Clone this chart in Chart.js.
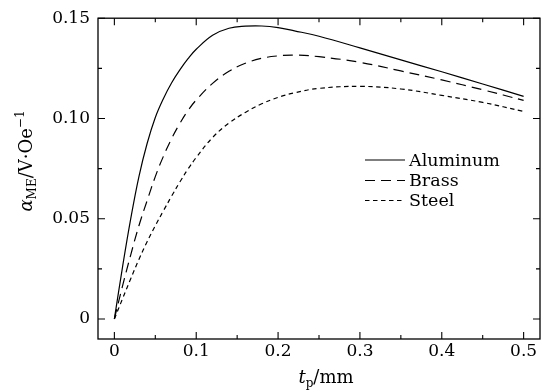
<!DOCTYPE html>
<html>
<head>
<meta charset="utf-8">
<script src="https://cdn.jsdelivr.net/npm/chart.js@4/dist/chart.umd.min.js"></script>
<style>
html,body{margin:0;padding:0;background:#fff;}
#wrap{width:553px;height:392px;position:relative;}
</style>
</head>
<body>
<div id="wrap"><canvas id="c" width="553" height="392"></canvas></div>
<script>
// ---- data ----
const thickness = [0,0.01,0.02,0.03,0.04,0.05,0.06,0.07,0.08,0.09,0.10,0.12,0.14,0.16,0.18,0.20,0.22,0.25,0.30,0.35,0.40,0.45,0.50];
const aluminum  = [0,0.026,0.050,0.0710,0.0875,0.1005,0.1100,0.1178,0.1242,0.1298,0.1345,0.1415,0.1450,0.1460,0.1461,0.1453,0.1437,0.1410,0.1352,0.1292,0.1233,0.1172,0.1110];
const brass     = [0,0.0165,0.032,0.0465,0.059,0.0710,0.0812,0.0900,0.0975,0.1040,0.1092,0.1175,0.1235,0.1275,0.1300,0.1312,0.1316,0.1308,0.1280,0.1237,0.1192,0.1143,0.1090];
const steel     = [0,0.0101,0.0201,0.0297,0.0385,0.0465,0.0540,0.0613,0.0683,0.0748,0.0805,0.0905,0.0977,0.1030,0.1073,0.1105,0.1128,0.1150,0.1160,0.1147,0.1115,0.1080,0.1035];
const seriesNames = ['Aluminum','Brass','Steel'];
const xTickValues = [0,0.1,0.2,0.3,0.4,0.5];
const xTickLabels = ['0','0.1','0.2','0.3','0.4','0.5'];
const yTickValues = [0,0.05,0.10,0.15];
const yTickLabels = ['0','0.05','0.10','0.15'];

const FONT = '"DejaVu Serif", serif';

function pts(ys){ return thickness.map((t,i)=>({x:t,y:ys[i]})); }

const dashes = [[], [10,6], [4.5,3.5]];

const framePlugin = {
  id:'frame',
  afterDraw(chart){
    const ctx = chart.ctx, a = chart.chartArea;
    const xs = chart.scales.x, ys = chart.scales.y;
    ctx.save();
    ctx.strokeStyle = '#000';
    ctx.lineWidth = 1.3;
    ctx.strokeRect(a.left, a.top, a.right-a.left, a.bottom-a.top);
    ctx.lineWidth = 1.1;
    ctx.beginPath();
    for (let i=0;i<xTickValues.length;i++){
      const v = xTickValues[i];
      const p = xs.getPixelForValue(v);
      ctx.moveTo(p,a.bottom); ctx.lineTo(p,a.bottom-7);
      ctx.moveTo(p,a.top); ctx.lineTo(p,a.top+7);
      if (i<xTickValues.length-1){
        const m = xs.getPixelForValue((v+xTickValues[i+1])/2);
        ctx.moveTo(m,a.bottom); ctx.lineTo(m,a.bottom-4);
        ctx.moveTo(m,a.top); ctx.lineTo(m,a.top+4);
      }
    }
    for (let i=0;i<yTickValues.length;i++){
      const v = yTickValues[i];
      const p = ys.getPixelForValue(v);
      ctx.moveTo(a.left,p); ctx.lineTo(a.left+7,p);
      ctx.moveTo(a.right,p); ctx.lineTo(a.right-7,p);
      if (i<yTickValues.length-1){
        const m = ys.getPixelForValue((v+yTickValues[i+1])/2);
        ctx.moveTo(a.left,m); ctx.lineTo(a.left+4,m);
        ctx.moveTo(a.right,m); ctx.lineTo(a.right-4,m);
      }
    }
    ctx.stroke();

    const lx0 = 365, lx1 = 405, tx = 409;
    const rowY = [160, 180.5, 200.5];
    chart.data.datasets.forEach((ds,i)=>{
      ctx.beginPath();
      ctx.setLineDash(ds.borderDash || []);
      ctx.lineWidth = ds.borderWidth;
      ctx.moveTo(lx0,rowY[i]); ctx.lineTo(lx1,rowY[i]);
      ctx.stroke();
      ctx.setLineDash([]);
      ctx.fillStyle = '#000';
      ctx.font = '17.5px ' + FONT;
      ctx.textBaseline = 'middle';
      ctx.textAlign = 'left';
      ctx.fillText(ds.label, tx, rowY[i]+1);
    });

    function drawRich(segs, cx, cy, rot){
      ctx.save();
      ctx.translate(cx, cy);
      if (rot) ctx.rotate(rot);
      ctx.textBaseline = 'alphabetic';
      ctx.textAlign = 'left';
      let w = 0;
      segs.forEach(s=>{ ctx.font = s.f; w += ctx.measureText(s.t).width; });
      let x = -w/2;
      segs.forEach(s=>{ ctx.font = s.f; ctx.fillText(s.t, x, s.dy||0); x += ctx.measureText(s.t).width; });
      ctx.restore();
    }
    ctx.fillStyle = '#000';
    drawRich([
      {t:'α', f:'italic 18px '+FONT},
      {t:'ME', f:'12px '+FONT, dy:4},
      {t:'/V·Oe', f:'18px '+FONT},
      {t:'−1', f:'12px '+FONT, dy:-8}
    ], 32, 161, -Math.PI/2);
    drawRich([
      {t:'t', f:'italic 18px '+FONT},
      {t:'p', f:'12px '+FONT, dy:4},
      {t:'/mm', f:'18px '+FONT}
    ], 326, 383, 0);
    ctx.restore();
  }
};

new Chart(document.getElementById('c'), {
  type:'line',
  data:{
    datasets:[
      {label:seriesNames[0], data:pts(aluminum), borderColor:'#000', borderWidth:1.2, borderDash:dashes[0], pointRadius:0, fill:false, tension:0.4},
      {label:seriesNames[1], data:pts(brass), borderColor:'#000', borderWidth:1.2, borderDash:dashes[1], pointRadius:0, fill:false, tension:0.4},
      {label:seriesNames[2], data:pts(steel), borderColor:'#000', borderWidth:1.2, borderDash:dashes[2], pointRadius:0, fill:false, tension:0.4}
    ]
  },
  options:{
    responsive:false,
    animation:false,
    events:[],
    layout:{padding:{top:12,right:13,left:0,bottom:0}},
    plugins:{legend:{display:false}, tooltip:{enabled:false}},
    scales:{
      x:{
        type:'linear', min:-0.02, max:0.52,
        grid:{display:false, drawTicks:false}, border:{display:false},
        afterBuildTicks(s){ s.ticks = xTickValues.map(v=>({value:v})); },
        afterFit(s){ s.height = 53; },
        ticks:{
          color:'#000', font:{family:FONT, size:17}, padding:2, maxRotation:0, autoSkip:false,
          callback(v){ const i = xTickValues.findIndex(t=>Math.abs(t-v)<1e-9); return i>=0 ? xTickLabels[i] : ''; }
        }
      },
      y:{
        type:'linear', min:-0.01, max:0.15,
        grid:{display:false, drawTicks:false}, border:{display:false},
        afterBuildTicks(s){ s.ticks = yTickValues.map(v=>({value:v})); },
        afterFit(s){ s.width = 98; },
        ticks:{
          color:'#000', font:{family:FONT, size:17}, padding:8, autoSkip:false,
          callback(v){ const i = yTickValues.findIndex(t=>Math.abs(t-v)<1e-9); return i>=0 ? yTickLabels[i] : ''; }
        }
      }
    }
  },
  plugins:[framePlugin]
});
</script>
</body>
</html>
